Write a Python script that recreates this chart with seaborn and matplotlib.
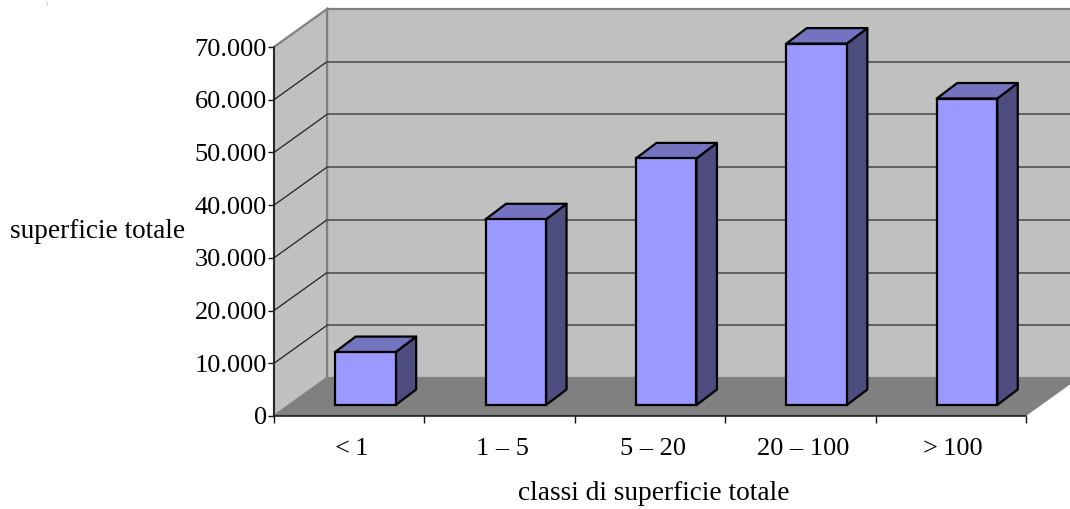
import matplotlib
matplotlib.use('Agg')
import matplotlib.pyplot as plt
from matplotlib.patches import Polygon
from matplotlib.transforms import ScaledTranslation
import pandas as pd
import seaborn as sns

# Dati
categorie = ['<\u20091', '1 \u2013 5', '5 \u2013 20', '20 \u2013 100', '>\u2009100']
superficie = [10040, 35230, 46780, 68560, 58140]
tick_valori = [0, 10000, 20000, 30000, 40000, 50000, 60000, 70000]
tick_etichette = ['0', '10.000', '20.000', '30.000', '40.000', '50.000', '60.000', '70.000']

df = pd.DataFrame({'classe': categorie, 'superficie': superficie})

sns.set_theme(style='white')
plt.rcParams['font.family'] = ['Liberation Serif', 'DejaVu Serif']

W, H = 1070, 509
fig = plt.figure(figsize=(W / 100, H / 100), dpi=100)
# piano frontale del grafico, in pixel
left, right, top, bottom = 274, 1026, 47, 416
ax = fig.add_axes([left / W, 1 - bottom / H, (right - left) / W, (bottom - top) / H])

# Barre
sns.barplot(data=df, x='classe', y='superficie', ax=ax, color='#9999FF', saturation=1,
            width=60.5 / 150.4, edgecolor='black', linewidth=1.6, zorder=5)
ax.set_xlim(-0.5, 4.5)
ax.set_ylim(0, 70000)

# conversione pixel -> unita' dei dati
px = 5 / (right - left)
py = 70000 / (bottom - top)
wall_dx, wall_dy = 53 * px, 38 * py
bar_dx, bar_dy = 20.5 * px, 15.5 * py
shift_x, lift_y = 16.2 * px, 11 * py

x0, x1 = -0.5, 4.5
y1 = 70000


def poly(pts, **kw):
    ax.add_patch(Polygon(pts, closed=True, clip_on=False, **kw))


# Pareti e pavimento
poly([(x0 + wall_dx, wall_dy), (x1 + wall_dx, wall_dy), (x1 + wall_dx, y1 + wall_dy), (x0 + wall_dx, y1 + wall_dy)],
     facecolor='#C0C0C0', edgecolor='#808080', linewidth=1.6, zorder=1)
poly([(x0, 0), (x0 + wall_dx, wall_dy), (x0 + wall_dx, y1 + wall_dy), (x0, y1)],
     facecolor='#C0C0C0', edgecolor='#808080', linewidth=1.6, zorder=1)
poly([(x0, 0), (x1, 0), (x1 + wall_dx, wall_dy), (x0 + wall_dx, wall_dy)],
     facecolor='#808080', edgecolor='none', zorder=2)

# Griglia
for v in tick_valori[1:-1]:
    ax.plot([x0, x0 + wall_dx], [v, v + wall_dy], color='#222222', lw=0.9, clip_on=False, zorder=3)
    ax.plot([x0 + wall_dx, x1 + wall_dx], [v + wall_dy, v + wall_dy], color='#505050', lw=1.2, clip_on=False, zorder=3)

# Facce laterali e superiori delle barre
for patch in ax.patches[:len(categorie)]:
    patch.set_x(patch.get_x() + shift_x)
    patch.set_y(lift_y)
    patch.set_clip_on(False)
    xa = patch.get_x()
    xb = xa + patch.get_width()
    ya = patch.get_y()
    yb = ya + patch.get_height()
    poly([(xb, ya), (xb + bar_dx, ya + bar_dy), (xb + bar_dx, yb + bar_dy), (xb, yb)],
         facecolor='#4D4D80', edgecolor='black', linewidth=1.6, joinstyle='round', zorder=4)
    poly([(xa, yb), (xb, yb), (xb + bar_dx, yb + bar_dy), (xa + bar_dx, yb + bar_dy)],
         facecolor='#7373BF', edgecolor='black', linewidth=1.6, joinstyle='round', zorder=4)

# Assi
ax.patch.set_alpha(0)
for lato in ['top', 'right']:
    ax.spines[lato].set_visible(False)
for lato in ['left', 'bottom']:
    ax.spines[lato].set_color('#111111')
    ax.spines[lato].set_linewidth(1.1)
    ax.spines[lato].set_zorder(6)

ax.set_yticks(tick_valori)
ax.set_yticklabels(tick_etichette, fontsize=19)
ax.set_xticks(range(len(categorie)))
ax.set_xticklabels(categorie, fontsize=19)
ax.set_xticks([i - 0.5 for i in range(len(categorie) + 1)], minor=True)
ax.tick_params(axis='x', which='major', length=0, pad=16, colors='black')
ax.tick_params(axis='x', which='minor', length=5, width=1, color='#111111', bottom=True)
ax.tick_params(axis='y', length=4, width=1, color='#111111', pad=1, left=True, labelcolor='black')

# le etichette delle classi stanno un po' piu' a destra
for label in ax.get_xticklabels():
    label.set_transform(label.get_transform() + ScaledTranslation(2.5 / 100, 0, fig.dpi_scale_trans))

ax.set_xlabel('')
ax.set_ylabel('')
fig.text(97.5 / W, 1 - 232 / H, 'superficie totale', fontsize=19.6, ha='center', va='center', color='black')
fig.text(653.5 / W, 1 - 493 / H, 'classi di superficie totale', fontsize=19.7, ha='center', va='center', color='black')
# piccolo residuo in alto a sinistra
fig.text(47 / W, 1 - 5 / H, ')', fontsize=4, ha='center', va='baseline', color='#999999')

fig.savefig('out.png', dpi=100)
